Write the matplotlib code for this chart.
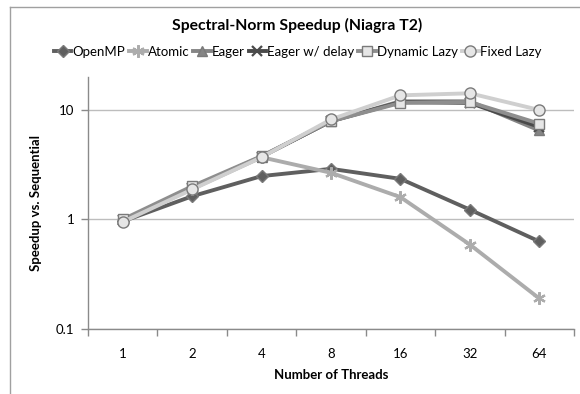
import numpy as np
import matplotlib
matplotlib.use("Agg")
from matplotlib import pyplot as plt
from matplotlib.lines import Line2D

plt.rcParams['font.family'] = ['Lato', 'DejaVu Sans']

# thread counts and speedups per implementation
threads = ['1', '2', '4', '8', '16', '32', '64']
openmp = [0.96, 1.63, 2.49, 2.9, 2.35, 1.23, 0.63]
atomic = [0.97, 1.9, 3.7, 2.67, 1.6, 0.59, 0.19]
eager = [0.98, 1.95, 3.75, 7.9, 12.0, 12.0, 6.5]
eager_delay = [0.98, 1.95, 3.75, 7.9, 11.8, 11.6, 7.0]
dynamic_lazy = [1.0, 2.01, 3.79, 7.9, 11.6, 11.8, 7.5]
fixed_lazy = [0.95, 1.88, 3.7, 8.2, 13.6, 14.2, 10.0]

series = [
    ('OpenMP', openmp, '#5f5f5f', 'D', 6),
    ('Atomic', atomic, '#acacac', (6, 2, 0), 9),
    ('Eager', eager, '#858585', '^', 7),
    ('Eager w/ delay', eager_delay, '#4a4a4a', 'x', 7),
    ('Dynamic Lazy', dynamic_lazy, '#8e8e8e', 's', 7.5),
    ('Fixed Lazy', fixed_lazy, '#cfcfcf', 'o', 8),
]

fig = plt.figure(figsize=(5.8, 3.94), dpi=100)
ax = fig.add_axes([88/580, 1-329/394, 486/580, 252/394])

x = np.arange(len(threads))
for name, vals, col, mk, ms in series:
    ax.plot(x, vals, color=col, lw=2.8, marker=mk, markersize=ms,
            markerfacecolor=col if mk not in ('o', 's') else '#e6e6e6',
            markeredgecolor='#7a7a7a' if mk not in ('x', (6, 2, 0)) else col,
            markeredgewidth=1.0 if mk not in ('x', (6, 2, 0)) else 1.6,
            label=name, zorder=3)

ax.set_yscale('log')
ax.set_ylim(0.1, 20)
ax.set_xlim(-0.5, len(threads) - 0.5)
ax.set_yticks([0.1, 1, 10])
ax.set_yticklabels(['0.1', '1', '10'])
ax.yaxis.set_minor_locator(matplotlib.ticker.NullLocator())
ax.set_xticks(x)
ax.set_xticklabels(threads)
ax.set_xticks(np.arange(-0.5, len(threads)), minor=True)
ax.tick_params(axis='x', which='major', length=0, pad=14, labelsize=9.5)
ax.tick_params(axis='x', which='minor', length=5, color='#8a8a8a', width=1)
ax.tick_params(axis='y', length=5, color='#8a8a8a', width=1, pad=5, labelsize=9.5)
ax.grid(axis='y', which='major', color='#bdbdbd', lw=1)
ax.set_axisbelow(True)
for s in ('top', 'right'):
    ax.spines[s].set_visible(False)
for s in ('left', 'bottom'):
    ax.spines[s].set_color('#8a8a8a')
    ax.spines[s].set_linewidth(1)

ax.set_xlabel('Number of Threads', fontweight='bold', fontsize=9.5, labelpad=6)
ax.set_ylabel('Speedup vs. Sequential', fontweight='bold', fontsize=9.5, labelpad=10)

fig.text(297/580, 1-25/394, 'Spectral-Norm Speedup (Niagra T2)', ha='center', va='center',
         fontweight='bold', fontsize=11.3)
fig.legend(loc='center', bbox_to_anchor=(298/580, 1-52/394), ncol=6, frameon=False,
           fontsize=9.5, handlelength=1.3, handletextpad=0.1, columnspacing=0.3,
           borderaxespad=0)

# outer chart frame
fig.add_artist(Line2D([10/580, 10/580], [0, 1-7/394], color='#a0a0a0', lw=1))
fig.add_artist(Line2D([10/580, 1], [1-7/394, 1-7/394], color='#a0a0a0', lw=1))

fig.savefig('out.png', dpi=100)
